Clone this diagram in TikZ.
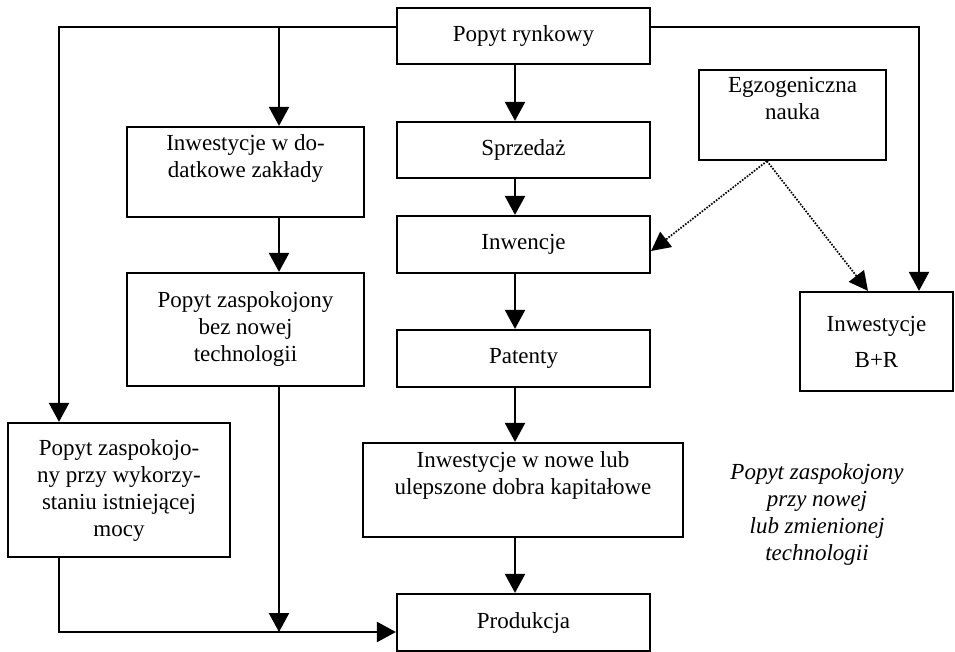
\documentclass[tikz,border=0pt]{standalone}
\usepackage{fontspec}
\setmainfont{Liberation Serif}
\usetikzlibrary{arrows.meta}
\begin{document}
\begin{tikzpicture}[x=1pt,y=-1pt,
  box/.style={draw, line width=2.2pt, inner sep=0pt, align=center,
              font=\fontsize{23}{27}\selectfont},
  arr/.style={line width=2.3pt, -{Triangle[length=19pt,width=20pt]}},
  dots/.style={line width=1.7pt, dash pattern=on 1.6pt off 1.4pt,
               -{Triangle[length=19pt,width=19pt]}}]
\useasboundingbox (0,0) rectangle (955,652);

% middle column
\node[box, minimum width=253pt, minimum height=56pt] (rynek) at (523.5,36) {Popyt rynkowy};
\node[box, minimum width=253pt, minimum height=56pt] (sprzedaz) at (523.5,150) {Sprzedaż};
\node[box, minimum width=253pt, minimum height=57pt] (inwencje) at (523.5,244.5) {Inwencje};
\node[box, minimum width=253pt, minimum height=57pt] (patenty) at (523.5,358.5) {Patenty};
\node[box, minimum width=320pt, minimum height=94pt] (nowe) at (523,490) {Inwestycje w nowe lub\\ulepszone dobra kapitałowe\\[6pt]};
\node[box, minimum width=253pt, minimum height=57pt] (produkcja) at (523.5,622.5) {Produkcja};

% left side
\node[box, minimum width=237pt, minimum height=90pt] (zaklady) at (245.5,172) {Inwestycje w do-\\datkowe zakłady\\[4pt]};
\node[box, minimum width=237pt, minimum height=113pt] (bez) at (245.5,329.5) {Popyt zaspokojony\\bez nowej\\technologii};
\node[box, minimum width=222pt, minimum height=134pt] (istn) at (119,490) {Popyt zaspokojo-\\ny przy wykorzy-\\staniu istniejącej\\mocy};

% right side
\node[box, minimum width=187pt, minimum height=90pt] (egzo) at (792.5,115) {Egzogeniczna\\nauka\\[6pt]};
\node[box, minimum width=153pt, minimum height=99pt] (br) at (876.5,341.5) {Inwestycje\\[9pt]B+R};
\node[font=\fontsize{23}{27}\selectfont\itshape, align=center] (opis) at (817,514)
  {Popyt zaspokojony\\przy nowej\\lub zmienionej\\technologii};

% routing points
\coordinate (cL) at (59,27);
\coordinate (cA) at (279,27);
\coordinate (cR) at (919,27);
\coordinate (cB) at (59,632);
\coordinate (cJ) at (279,632);

% connectors from market demand
\draw[arr] (rynek.west |- cL) -- (cL) -- (cL |- istn.north);
\draw[arr] (cA) -- (cA |- zaklady.north);
\draw[arr] (rynek.east |- cR) -- (cR) -- (cR |- br.north);

% middle chain
\draw[arr] (rynek.south -| 515,0) -- (sprzedaz.north -| 515,0);
\draw[arr] (sprzedaz.south -| 515,0) -- (inwencje.north -| 515,0);
\draw[arr] (inwencje.south -| 515,0) -- (patenty.north -| 515,0);
\draw[arr] (patenty.south -| 515,0) -- (nowe.north -| 515,0);
\draw[arr] (nowe.south -| 515,0) -- (produkcja.north -| 515,0);

% left chain into production
\draw[arr] (zaklady.south -| cA) -- (bez.north -| cA);
\draw[arr] (bez.south -| cA) -- (cJ);
\draw[arr] (istn.south -| cB) -- (cB) -- (produkcja.west |- cB);

% exogenous science
\draw[dots] (egzo.south -| 767,0) -- (inwencje.east |- 0,251);
\draw[dots] (egzo.south -| 767,0) -- (br.north -| 868,0);
\end{tikzpicture}
\end{document}
